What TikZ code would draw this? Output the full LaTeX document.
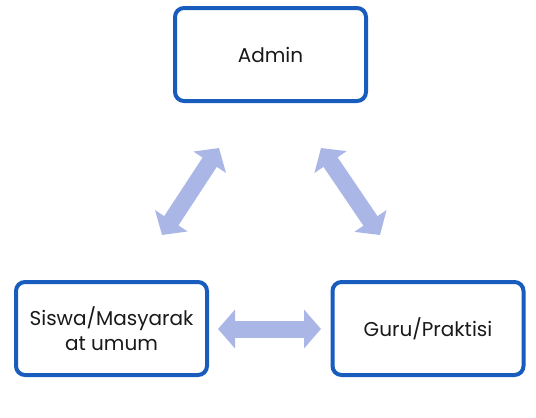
\documentclass[tikz,border=0pt]{standalone}
\usepackage{fontspec}
\setmainfont{Poppins}
\usetikzlibrary{arrows.meta}
\definecolor{boxblue}{RGB}{24,92,190}
\definecolor{arrowblue}{RGB}{170,182,230}
\begin{document}
\begin{tikzpicture}[x=1pt,y=-1pt,
  rolebox/.style={draw=boxblue, line width=4pt, rounded corners=9pt, fill=white,
    minimum width=191pt, minimum height=93pt, align=center, inner sep=4pt,
    font=\fontsize{20}{25}\selectfont, text=black!90},
  blockarrow/.style={draw=arrowblue, line width=17pt,
    {Triangle[length=17pt,width=38pt]}-{Triangle[length=17pt,width=38pt]}}]
\useasboundingbox (0,0) rectangle (536,418);
\node[rolebox] (admin) at (270.5,54.5) {Admin};
\node[rolebox] (siswa) at (111.5,328.5) {Siswa/Masyarak\\at umum};
\node[rolebox] (guru) at (428,328.5) {Guru/Praktisi};
\coordinate (l1) at (162,235);
\coordinate (l2) at (219,148);
\coordinate (r1) at (321,148);
\coordinate (r2) at (380,235);
\coordinate (h1) at (218,329);
\coordinate (h2) at (321,329);
\draw[blockarrow] (l1) -- (l2);
\draw[blockarrow] (r1) -- (r2);
\draw[blockarrow] (h1) -- (h2);
\end{tikzpicture}
\end{document}
